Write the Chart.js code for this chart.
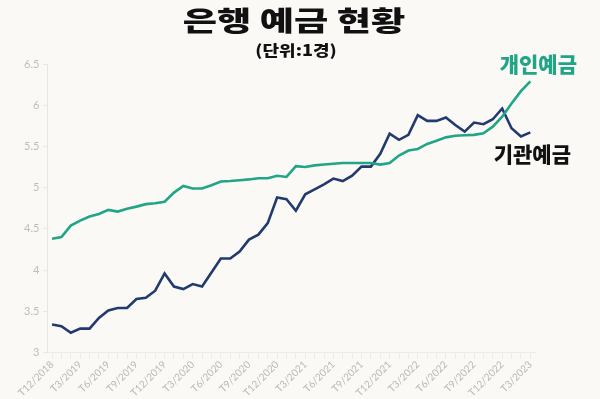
<!DOCTYPE html>
<html>
<head>
<meta charset="utf-8">
<script src="https://cdn.jsdelivr.net/npm/chart.js@4"></script>
<style>
  html, body { margin: 0; padding: 0; background: #faf9f6; }
  #wrap { width: 600px; height: 399px; position: relative; }
</style>
</head>
<body>
<div id="wrap"><canvas id="c" width="600" height="399"></canvas></div>
<script>
const titleText = '은행 예금 현황';
const subtitleText = '(단위:1경)';
const seriesNames = ['개인예금', '기관예금'];

const months = [
  'T12/2018',
  'T1/2019','T2/2019','T3/2019','T4/2019','T5/2019','T6/2019','T7/2019','T8/2019','T9/2019','T10/2019','T11/2019','T12/2019',
  'T1/2020','T2/2020','T3/2020','T4/2020','T5/2020','T6/2020','T7/2020','T8/2020','T9/2020','T10/2020','T11/2020','T12/2020',
  'T1/2021','T2/2021','T3/2021','T4/2021','T5/2021','T6/2021','T7/2021','T8/2021','T9/2021','T10/2021','T11/2021','T12/2021',
  'T1/2022','T2/2022','T3/2022','T4/2022','T5/2022','T6/2022','T7/2022','T8/2022','T9/2022','T10/2022','T11/2022','T12/2022',
  'T1/2023','T2/2023','T3/2023'
];

const individualDeposits = [
  4.38, 4.40, 4.54, 4.60, 4.65, 4.68, 4.73, 4.71, 4.745, 4.77, 4.80, 4.81, 4.83,
  4.94, 5.02, 4.99, 4.99, 5.03, 5.075, 5.08, 5.09, 5.10, 5.115, 5.115, 5.145,
  5.13, 5.26, 5.25, 5.27, 5.28, 5.29, 5.30, 5.30, 5.30, 5.30, 5.28, 5.30,
  5.39, 5.45, 5.47, 5.53, 5.57, 5.61, 5.63, 5.635, 5.64, 5.66, 5.74, 5.86,
  6.02, 6.17, 6.29
];

const institutionalDeposits = [
  3.34, 3.32, 3.24, 3.29, 3.29, 3.42, 3.51, 3.54, 3.54, 3.65, 3.665, 3.75, 3.96,
  3.80, 3.77, 3.83, 3.80, 3.97, 4.14, 4.14, 4.225, 4.37, 4.43, 4.57, 4.88,
  4.86, 4.72, 4.92, 4.98, 5.04, 5.11, 5.08, 5.145, 5.255, 5.255, 5.41, 5.655,
  5.58, 5.64, 5.88, 5.81, 5.81, 5.85, 5.76, 5.68, 5.79, 5.77, 5.83, 5.96,
  5.72, 5.62, 5.67
];

const GREEN = '#22a586';
const NAVY = '#223a6e';

const bgPlugin = {
  id: 'bg',
  beforeDraw(chart) {
    const ctx = chart.ctx;
    ctx.save();
    ctx.fillStyle = '#faf9f6';
    ctx.fillRect(0, 0, chart.width, chart.height);
    ctx.restore();
  }
};

const titlePlugin = {
  id: 'customTitle',
  afterDraw(chart) {
    const ctx = chart.ctx;
    ctx.save();
    ctx.fillStyle = '#111';
    ctx.textAlign = 'center';
    ctx.textBaseline = 'middle';
    ctx.translate(294, 21);
    ctx.scale(1.38, 1);
    ctx.font = '900 27px "Noto Sans CJK KR"';
    ctx.fillText(titleText, 0, 0);
    ctx.restore();

    ctx.save();
    ctx.fillStyle = '#111';
    ctx.textAlign = 'center';
    ctx.textBaseline = 'middle';
    ctx.translate(296, 50);
    ctx.scale(1.2, 1);
    ctx.font = '900 15px "Noto Sans CJK KR"';
    ctx.fillText(subtitleText, 0, 0);
    ctx.restore();
  }
};

const endLabelPlugin = {
  id: 'endLabels',
  afterDraw(chart) {
    const ctx = chart.ctx;
    const specs = [
      { ds: 0, dx: 8, dy: -17, color: GREEN },
      { ds: 1, dx: 2, dy: 22, color: '#111' }
    ];
    specs.forEach(s => {
      const meta = chart.getDatasetMeta(s.ds);
      const pt = meta.data[meta.data.length - 1];
      ctx.save();
      ctx.fillStyle = s.color;
      ctx.textAlign = 'center';
      ctx.textBaseline = 'middle';
      ctx.font = '900 21px "Noto Sans CJK KR"';
      ctx.fillText(seriesNames[s.ds], pt.x + s.dx, pt.y + s.dy);
      ctx.restore();
    });
  }
};

new Chart(document.getElementById('c'), {
  type: 'line',
  data: {
    labels: months,
    datasets: [
      {
        label: seriesNames[0],
        data: individualDeposits,
        borderColor: GREEN,
        borderWidth: 2.6,
        pointRadius: 0,
        tension: 0,
        fill: false
      },
      {
        label: seriesNames[1],
        data: institutionalDeposits,
        borderColor: NAVY,
        borderWidth: 2.6,
        pointRadius: 0,
        tension: 0,
        fill: false
      }
    ]
  },
  options: {
    responsive: false,
    animation: false,
    devicePixelRatio: 1,
    layout: { padding: { top: 64, left: 20, right: 65, bottom: 0 } },
    plugins: {
      legend: { display: false },
      title: { display: false },
      tooltip: { enabled: false }
    },
    scales: {
      x: {
        offset: true,
        grid: {
          drawOnChartArea: false,
          drawTicks: true,
          tickLength: 6,
          color: '#ececec'
        },
        border: { display: true, color: '#ececec' },
        ticks: {
          autoSkip: false,
          maxRotation: 45,
          minRotation: 45,
          padding: 0,
          color: '#b8b8b8',
          font: { family: 'Lato', size: 10 },
          callback: function (value, index) {
            return index % 3 === 0 ? months[index] : '';
          }
        }
      },
      y: {
        min: 3,
        max: 6.5,
        grid: {
          drawOnChartArea: false,
          drawTicks: true,
          tickLength: 4,
          color: '#e6e6e6'
        },
        border: { display: true, color: '#e6e6e6' },
        ticks: {
          stepSize: 0.5,
          padding: 4,
          color: '#bdbdbd',
          font: { family: 'Lato', size: 11 },
          callback: function (value) {
            return String(Math.round(value * 10) / 10);
          }
        }
      }
    }
  },
  plugins: [bgPlugin, titlePlugin, endLabelPlugin]
});
</script>
</body>
</html>
